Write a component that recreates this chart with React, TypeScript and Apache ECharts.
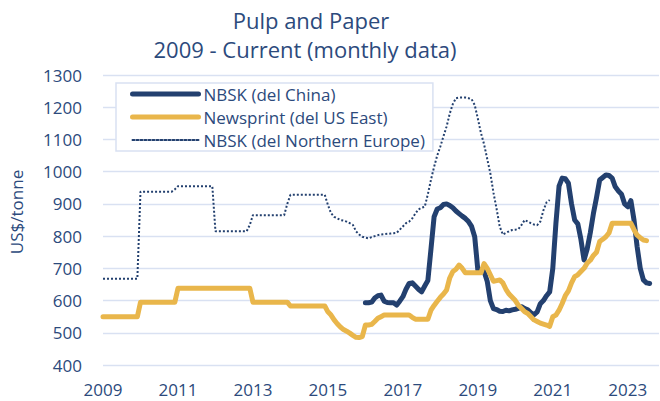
import React, { useEffect, useRef } from "react";
import * as echarts from "echarts";

// Monthly data, index 0 = Jan 2009
const START_YEAR = 2009;
const AXIS_MAX_MONTH = 178;
const yTicks = { min: 400, max: 1300, interval: 100 };

const seriesNames = [
  "NBSK (del China)",
  "Newsprint (del US East)",
  "NBSK (del Northern Europe)",
];

// NBSK (del China) starts Jan 2016 (month index 84)
const chinaStart = 84;
const chinaValues = [
  593, 593, 595, 608, 615, 617, 598, 594, 593, 593, 586, 598,
  612, 635, 653, 655, 645, 635, 627, 645, 662, 760, 860, 884,
  888, 898, 900, 895, 888, 878, 870, 862, 855, 845, 830, 798,
  695, 695, 690, 660, 600, 575, 572, 567, 566, 570, 568, 571,
  573, 576, 581, 575, 571, 562, 556, 565, 590, 600, 615, 627,
  700, 840, 955, 980, 978, 964, 900, 850, 838, 790, 726, 760,
  810, 870, 920, 974, 982, 990, 988, 980, 953, 940, 930, 900,
  891, 910, 850, 767, 700, 664, 655, 653,
];

// Newsprint (del US East) starts Jan 2009
const newsprintStart = 0;
const newsprintValues = [
  550, 550, 550, 550, 550, 550, 550, 550, 550, 550, 550, 550,
  595, 595, 595, 595, 595, 595, 595, 595, 595, 595, 595, 595,
  638, 638, 638, 638, 638, 638, 638, 638, 638, 638, 638, 638,
  638, 638, 638, 638, 638, 638, 638, 638, 638, 638, 638, 638,
  595, 595, 595, 595, 595, 595, 595, 595, 595, 595, 595, 595,
  583, 583, 583, 583, 583, 583, 583, 583, 583, 583, 583, 583,
  565, 555, 540, 528, 518, 510, 505, 499, 492, 486, 485, 488,
  524, 524, 526, 535, 545, 550, 555, 555, 555, 555, 555, 555,
  555, 555, 555, 548, 542, 542, 542, 542, 542, 570, 585, 598,
  610, 620, 633, 670, 690, 697, 710, 700, 686, 686, 686, 686,
  686, 686, 715, 700, 680, 660, 662, 664, 655, 635, 620, 610,
  600, 585, 575, 565, 560, 550, 540, 535, 530, 527, 524, 520,
  550, 555, 570, 591, 615, 630, 655, 674, 680, 690, 700, 716,
  725, 740, 750, 783, 790, 798, 810, 840, 840, 840, 840, 840,
  840, 840, 820, 803, 795, 788, 786,
];

// NBSK (del Northern Europe) starts Jan 2009
const europeStart = 0;
const europeValues = [
  668, 668, 668, 668, 668, 668, 668, 668, 668, 668, 668, 668,
  938, 938, 938, 938, 938, 938, 938, 938, 938, 938, 938, 945,
  955, 955, 955, 955, 955, 955, 955, 955, 955, 955, 955, 955,
  815, 815, 815, 815, 815, 815, 815, 815, 815, 815, 815, 835,
  865, 865, 865, 865, 865, 865, 865, 865, 865, 865, 865, 900,
  928, 928, 928, 928, 928, 928, 928, 928, 928, 928, 928, 928,
  897, 871, 860, 855, 850, 848, 845, 840, 835, 815, 805, 798,
  795, 793, 797, 800, 803, 805, 806, 807, 808, 809, 810, 820,
  830, 840, 845, 855, 870, 883, 888, 891, 930, 975, 1015, 1050,
  1078, 1110, 1140, 1180, 1210, 1228, 1230, 1230, 1230, 1228, 1225, 1207,
  1165, 1120, 1085, 1040, 995, 935, 885, 830, 805, 810, 815, 819,
  820, 822, 835, 850, 845, 840, 836, 834, 845, 880, 905, 912,
];

const toPoints = (start: number, values: number[]) =>
  values.map((v, i) => [start + i, v]);

const TEXT = "#2C4A7C";
const FONT = "Open Sans";
const BLUE = "#23406F";
const GOLD = "#E9B64B";
const GRID = "#D9E1F2";

export default function App() {
  const ref = useRef<HTMLDivElement>(null);

  useEffect(() => {
    document.body.style.margin = "0";
    if (!ref.current) return;
    const chart = echarts.init(ref.current, undefined, { renderer: "svg" });
    chart.setOption({
      animation: false,
      backgroundColor: "#ffffff",
      textStyle: { fontFamily: FONT, color: TEXT },
      grid: { left: 103, right: 1, top: 75, bottom: 36, outerBoundsMode: "none" },
      graphic: [
        {
          type: "text",
          x: 311,
          y: 20,
          style: {
            text: "Pulp and Paper",
            fill: TEXT,
            font: `22px "${FONT}"`,
            textAlign: "center",
            textVerticalAlign: "middle",
          },
        },
        {
          type: "text",
          x: 305,
          y: 49,
          style: {
            text: "2009 - Current (monthly data)",
            fill: TEXT,
            font: `22px "${FONT}"`,
            textAlign: "center",
            textVerticalAlign: "middle",
          },
        },
        {
          type: "text",
          x: 16,
          y: 212,
          rotation: Math.PI / 2,
          style: {
            text: "US$/tonne",
            fill: TEXT,
            font: `17px "${FONT}"`,
            textAlign: "center",
            textVerticalAlign: "middle",
          },
        },
      ],
      legend: {
        orient: "vertical",
        left: 116,
        top: 83,
        data: seriesNames,
        backgroundColor: "#ffffff",
        borderColor: GRID,
        borderWidth: 1.5,
        borderRadius: 0,
        padding: [2, 8, 2, 14],
        itemWidth: 66,
        itemHeight: 10,
        itemGap: 5,
        itemStyle: { opacity: 0 },
        lineStyle: { width: "inherit", cap: "round" },
        textStyle: { fontFamily: FONT, fontSize: 17, color: TEXT, lineHeight: 18 },
      },
      xAxis: {
        type: "value",
        min: 0,
        max: AXIS_MAX_MONTH,
        interval: 24,
        axisLine: { show: false },
        axisTick: { show: false },
        splitLine: { show: false },
        axisLabel: {
          fontFamily: FONT,
          fontSize: 17,
          color: TEXT,
          margin: 16,
          showMaxLabel: false,
          formatter: (v: number) => (v % 24 === 0 ? String(START_YEAR + v / 12) : ""),
        },
      },
      yAxis: {
        type: "value",
        min: yTicks.min,
        max: yTicks.max,
        interval: yTicks.interval,
        axisLine: { show: false },
        axisTick: { show: false },
        splitLine: { show: true, lineStyle: { color: GRID, width: 1.3 } },
        axisLabel: {
          fontFamily: FONT,
          fontSize: 17,
          color: TEXT,
          margin: 21,
          formatter: (v: number) => String(v),
        },
      },
      series: [
        {
          name: seriesNames[0],
          type: "line",
          data: toPoints(chinaStart, chinaValues),
          symbol: "none",
          lineStyle: { color: BLUE, width: 5, cap: "round", join: "round" },
          itemStyle: { color: BLUE },
        },
        {
          name: seriesNames[1],
          type: "line",
          data: toPoints(newsprintStart, newsprintValues),
          symbol: "none",
          lineStyle: { color: GOLD, width: 5, cap: "round", join: "round" },
          itemStyle: { color: GOLD },
        },
        {
          name: seriesNames[2],
          type: "line",
          data: toPoints(europeStart, europeValues),
          symbol: "none",
          lineStyle: { color: BLUE, width: 2, type: "dotted" },
          itemStyle: { color: BLUE },
        },
      ],
    });
    return () => chart.dispose();
  }, []);

  return <div ref={ref} style={{ width: 660, height: 401 }} />;
}
